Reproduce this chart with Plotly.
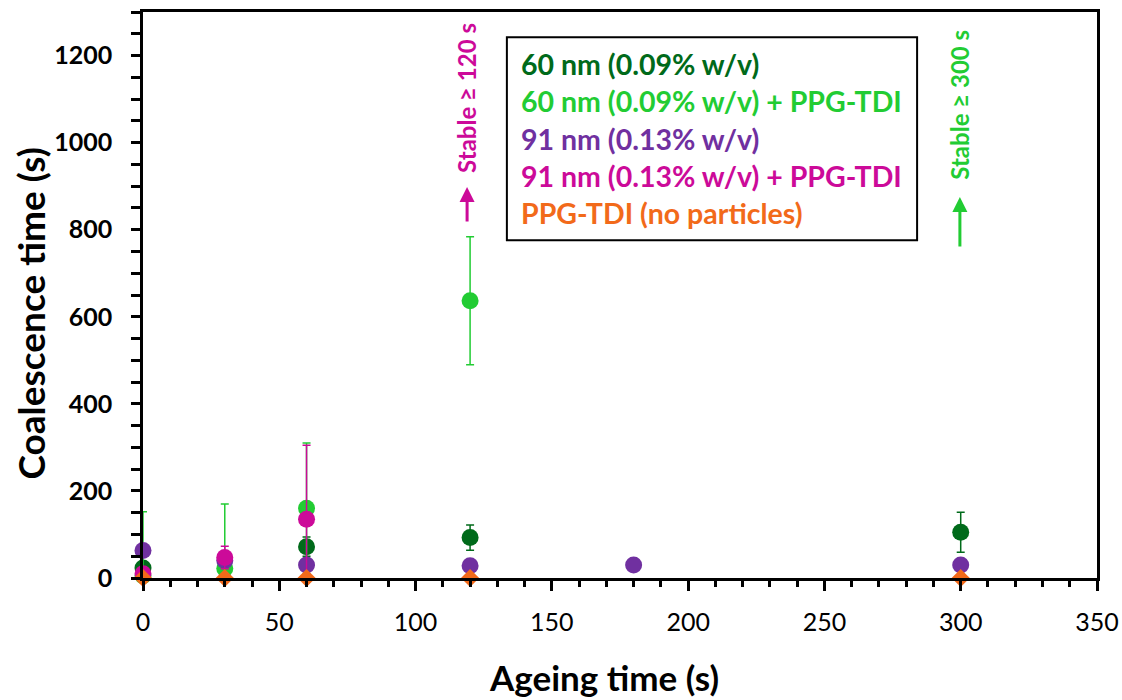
import plotly.graph_objects as go

# ---- data ----
names = ["60 nm (0.09% w/v)", "60 nm (0.09% w/v) + PPG-TDI", "91 nm (0.13% w/v)",
         "91 nm (0.13% w/v) + PPG-TDI", "PPG-TDI (no particles)"]
colors = ["#006A1A", "#22CC33", "#7030A0", "#CC0A99", "#F26A1A"]

dg_x = [0, 60, 120, 300]
dg_y = [23, 72, 93, 105]
dg_e = [8, 22, 29, 46]

bg_x = [0, 30, 60, 120]
bg_y = [5, 22, 160, 637]
bg_e = [147, 148, 150, 147]

pu_x = [0, 30, 60, 120, 180, 300]
pu_y = [63, 40, 30, 28, 30, 30]

mg_x = [0, 30, 60]
mg_y = [10, 47, 135]
mg_e = [5, 26, 170]

or_x = [0, 30, 60, 120, 300]
or_y = [0, 0, 0, 0, 0]

font = "Lato"

fig = go.Figure()

def add(x, y, e, color, symbol="circle", size=17, name=""):
    err = None
    if e is not None:
        err = dict(type="data", array=e, visible=True, color=color, thickness=1.5, width=4)
    fig.add_trace(go.Scatter(
        x=x, y=y, mode="markers", name=name, cliponaxis=False,
        marker=dict(color=color, size=size, symbol=symbol, line=dict(width=0)),
        error_y=err, showlegend=False))

add(dg_x, dg_y, dg_e, colors[0], name=names[0])
add(bg_x, bg_y, bg_e, colors[1], name=names[1])
add(pu_x, pu_y, None, colors[2], name=names[2])
add(mg_x, mg_y, mg_e, colors[3], name=names[3])
add(or_x, or_y, None, colors[4], symbol="diamond", size=14, name=names[4])

# legend box (text only, coloured)
fig.add_shape(type="rect", xref="x", yref="y", x0=133.5, x1=284.0, y0=776, y1=1242,
              line=dict(color="black", width=2), fillcolor="white", layer="below")
for i, (n, c) in enumerate(zip(names, colors)):
    fig.add_annotation(x=137.9, y=1180 - i * 85.5, xref="x", yref="y", text="<b>%s</b>" % n,
                       showarrow=False, xanchor="left", yanchor="middle",
                       font=dict(family=font, size=28.5, color=c))

# stability annotations
fig.add_annotation(x=118.9, y=898, xref="x", yref="y", text="", showarrow=True,
                   ax=0, ay=36, arrowhead=2, arrowsize=1, arrowwidth=3, arrowcolor=colors[3])
fig.add_annotation(x=118.9, y=926, xref="x", yref="y", text="<b>Stable ≥ 120 s</b>",
                   textangle=-90, showarrow=False, xanchor="center", yanchor="bottom",
                   font=dict(family=font, size=24, color=colors[3]))
fig.add_annotation(x=299.7, y=875, xref="x", yref="y", text="", showarrow=True,
                   ax=0, ay=51, arrowhead=2, arrowsize=1, arrowwidth=3, arrowcolor=colors[1])
fig.add_annotation(x=299.7, y=910, xref="x", yref="y", text="<b>Stable ≥ 300 s</b>",
                   textangle=-90, showarrow=False, xanchor="center", yanchor="bottom",
                   font=dict(family=font, size=24, color=colors[1]))

# axis titles
fig.add_annotation(x=-0.118, y=0.468, xref="paper", yref="paper", text="<b>Coalescence time (s)</b>",
                   textangle=-90, showarrow=False, xanchor="center", yanchor="middle",
                   font=dict(family=font, size=37, color="black"))
fig.add_annotation(x=0.483, y=-0.175, xref="paper", yref="paper", text="<b>Ageing time (s)</b>",
                   showarrow=False, xanchor="center", yanchor="middle",
                   font=dict(family=font, size=35, color="black"))

axis_common = dict(showline=True, linecolor="black", linewidth=2.5, mirror=True, automargin=False,
                   showgrid=False, zeroline=False, ticks="outside", tickcolor="black",
                   tickwidth=2.5, tickfont=dict(family=font, size=25, color="black"),
                   tickprefix="<b>", ticksuffix="</b>")

fig.update_xaxes(range=[0, 350], tickmode="array", tickvals=[0, 50, 100, 150, 200, 250, 300, 350],
                 ticklen=10, ticklabelstandoff=10,
                 minor=dict(dtick=10, ticks="outside", ticklen=6, tickwidth=2.5, tickcolor="black"),
                 **axis_common)
fig.update_yaxes(range=[0, 1300], dtick=200, ticklen=9, ticklabelstandoff=14,
                 minor=dict(dtick=50, ticks="outside", ticklen=9, tickwidth=2.5, tickcolor="black"),
                 **axis_common)

fig.update_layout(width=1122, height=700, margin=dict(l=143, r=25, t=12, b=122),
                  plot_bgcolor="white", paper_bgcolor="white")

# remove the page's default body margin so the figure fills the window exactly
fig.write_html("out.html", config={"displayModeBar": False},
               post_script="document.body.style.margin='0';document.body.style.overflow='hidden';")
